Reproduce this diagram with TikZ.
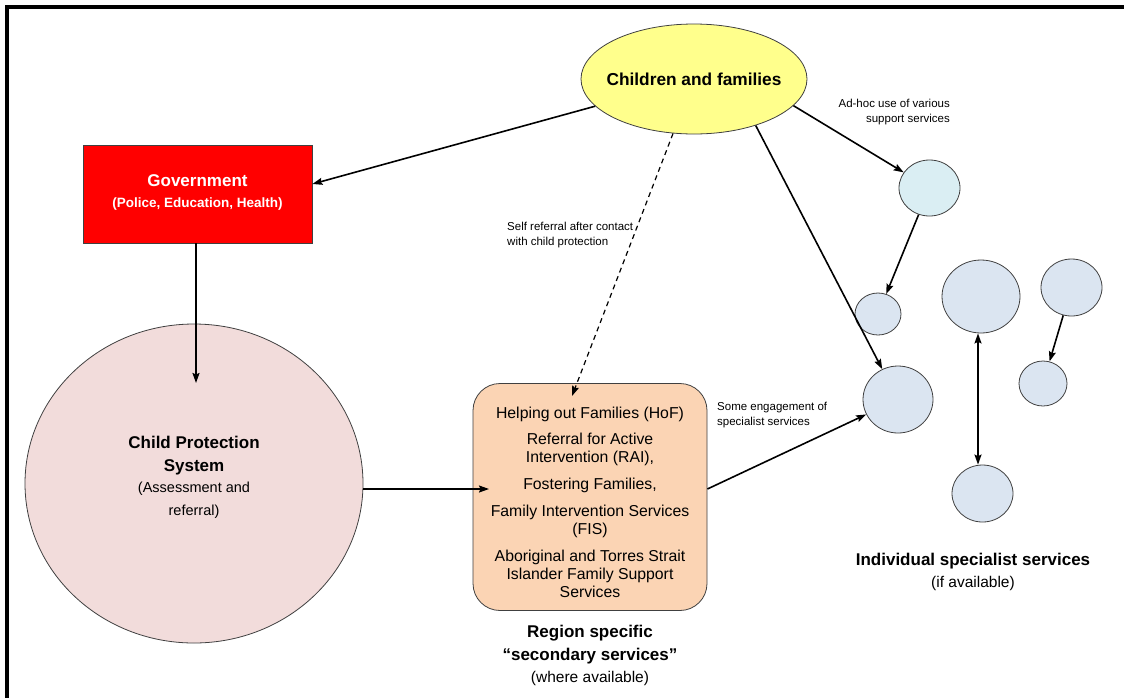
\documentclass[tikz,border=0pt]{standalone}
\usepackage{fontspec}
\setmainfont{Liberation Sans}
\usetikzlibrary{arrows.meta,shapes.geometric,calc}
\definecolor{cfyellow}{HTML}{FFFF8C}
\definecolor{govred}{HTML}{FF0000}
\definecolor{cpspink}{HTML}{F2DCDB}
\definecolor{boxorange}{HTML}{FBD4B4}
\definecolor{lightcyan}{HTML}{DAEEF3}
\definecolor{lightblue}{HTML}{DBE5F1}
\definecolor{outl}{HTML}{404040}
\newcommand{\fsz}[2]{\fontsize{#1}{#2}\selectfont}
\begin{document}
\begin{tikzpicture}[x=1pt,y=-1pt,
  shape outline/.style={draw=outl,line width=0.8pt,inner sep=0pt},
  ell/.style={shape outline,ellipse},
  spec/.style={ell,fill=lightblue},
  arr/.style={line width=1.6pt,-{Stealth[length=10pt,width=7pt,inset=1.5pt]}},
  darr/.style={line width=1.6pt,{Stealth[length=10pt,width=7pt,inset=1.5pt]}-{Stealth[length=10pt,width=7pt,inset=1.5pt]}},
  dasharr/.style={line width=1.2pt,dash pattern=on 5pt off 4pt,-{Stealth[length=10pt,width=7pt,inset=1.5pt]}},
  small/.style={font=\fsz{11.5}{15},inner sep=0pt},
  txt/.style={inner sep=0pt,align=center}
]
\useasboundingbox (0,0) rectangle (1124,697);
\clip (0,0) rectangle (1124,697);
\fill[white] (0,0) rectangle (1124,697);
\draw[line width=4pt] (7,7) rectangle (1150,720);

% main nodes
\node[ell,fill=cfyellow,minimum width=226pt,minimum height=110pt] (cf) at (694,79) {};
\node[txt,font=\fsz{17.3}{20}\bfseries] (cft) at (694,79) {Children and families};
\node[shape outline,rectangle,fill=govred,minimum width=229pt,minimum height=98pt] (gov) at (197.5,194) {};
\node[txt,text=white,font=\fsz{17}{21}\bfseries] (govt) at (197.5,192) {Government\\\fsz{13.5}{21}(Police, Education, Health)};
\node[ell,fill=cpspink,minimum width=338pt,minimum height=319pt] (cps) at (194,483.5) {};
\node[txt,font=\fsz{17}{23}\bfseries] (cpst) at (194,477) {Child Protection\\System\\[-2pt]\fsz{14.5}{20}\mdseries (Assessment and\\\fsz{14.5}{20}\mdseries referral)};
\node[shape outline,rectangle,rounded corners=27pt,fill=boxorange,minimum width=234pt,minimum height=227pt] (box) at (590,497) {};
\node[txt,font=\fsz{15.8}{18}] (boxt) at (590,502) {Helping out Families (HoF)\\[8.5pt]
Referral for Active\\Intervention (RAI),\\[8.5pt]
Fostering Families,\\[9.5pt]
Family Intervention Services\\(FIS)\\[8.5pt]
Aboriginal and Torres Strait\\Islander Family Support\\Services};
\node[txt,font=\fsz{17}{23}\bfseries] (regt) at (590,655.5) {Region specific\\“secondary services”\\[-1pt]\fsz{15.5}{22}\mdseries(where available)};

% specialist services
\node[ell,fill=lightcyan,minimum width=61pt,minimum height=56pt] (lb) at (929.5,188) {};
\node[spec,minimum width=46pt,minimum height=42pt] (sm) at (878,314) {};
\node[spec,minimum width=70pt,minimum height=67pt] (mid) at (898,399.5) {};
\node[spec,minimum width=78pt,minimum height=73pt] (big) at (981,296.5) {};
\node[spec,minimum width=61pt,minimum height=57pt] (rt) at (1071.5,287.5) {};
\node[spec,minimum width=48pt,minimum height=45pt] (rs) at (1043,383.5) {};
\node[spec,minimum width=61pt,minimum height=57pt] (bot) at (982.5,493.5) {};
\node[txt,font=\fsz{17}{22}\bfseries] (indt) at (973,572) {Individual specialist services\\\fsz{15.5}{22}\mdseries(if available)};

% small labels
\node[small,align=right,anchor=east] (adhoc) at (950,112.5) {Ad-hoc use of various\\support services};
\node[small,align=left,anchor=west] (selfref) at (507,235.5) {Self referral after contact\\with child protection};
\node[small,align=left,anchor=west] (someeng) at (717,415.5) {Some engagement of\\specialist services};

% connectors
\coordinate (cpsin) at (196,383);
\coordinate (boxin) at (489,489);
\coordinate (hofin) at (572,396);
\draw[arr] (cf) -- ([yshift=10pt]gov.east);
\draw[arr] (gov.south -| cpsin) -- (cpsin);
\draw[arr] (cps.east |- boxin) -- (boxin);
\draw[dasharr] (cf) -- (hofin);
\draw[arr] (cf.-37) -- (mid);
\draw[arr] (cf.-15) -- (lb);
\draw[arr] (lb) -- (sm);
\draw[arr] ([yshift=8pt]box.east) -- (mid);
\draw[arr] (rt) -- (rs);
\draw[darr] ([xshift=-3pt]big.south) -- ([xshift=-4.5pt]bot.north);
\end{tikzpicture}
\end{document}
